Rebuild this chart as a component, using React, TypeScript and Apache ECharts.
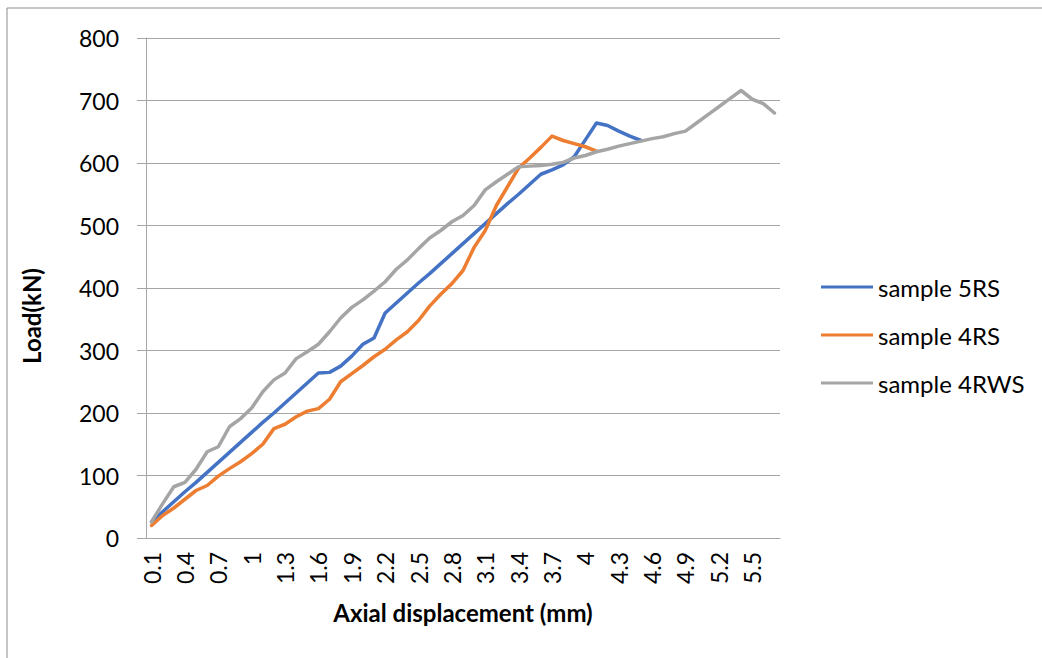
import React, { useEffect, useRef } from "react";
import * as echarts from "echarts";

const categories = [
  "0.1", "0.2", "0.3", "0.4", "0.5", "0.6", "0.7", "0.8", "0.9", "1",
  "1.1", "1.2", "1.3", "1.4", "1.5", "1.6", "1.7", "1.8", "1.9", "2",
  "2.1", "2.2", "2.3", "2.4", "2.5", "2.6", "2.7", "2.8", "2.9", "3",
  "3.1", "3.2", "3.3", "3.4", "3.5", "3.6", "3.7", "3.8", "3.9", "4",
  "4.1", "4.2", "4.3", "4.4", "4.5", "4.6", "4.7", "4.8", "4.9", "5",
  "5.1", "5.2", "5.3", "5.4", "5.5", "5.6", "5.7",
];

const sample5RS = [
  26, 42, 58, 74, 89, 105, 121, 137, 153, 169,
  185, 200, 216, 232, 248, 264, 265, 275, 291, 310,
  320, 360, 376, 392, 408, 423, 439, 455, 471, 487,
  503, 519, 535, 550, 566, 582, 589, 597, 610, 637,
  664, 660, 651, 643, 636,
];

const sample4RS = [
  20, 36, 48, 62, 76, 84, 99, 111, 122, 135,
  150, 175, 182, 194, 203, 207, 222, 250, 263, 276,
  290, 302, 317, 330, 348, 371, 390, 407, 428, 465,
  492, 532, 562, 592, 608, 625, 643, 636, 631, 626,
  619,
];

const sample4RWS = [
  26, 55, 82, 89, 110, 138, 146, 178, 191, 208,
  234, 253, 264, 287, 298, 310, 330, 352, 369, 381,
  395, 410, 430, 445, 463, 480, 492, 506, 516, 532,
  557, 570, 582, 594, 595, 596, 598, 601, 608, 612,
  618, 622, 627, 631, 635, 639, 642, 647, 651, 664,
  677, 690, 703, 716, 702, 695, 680,
];

const seriesNames = ["sample 5RS", "sample 4RS", "sample 4RWS"];
const seriesColors = ["#4472C4", "#ED7D31", "#A5A5A5"];

export default function App() {
  const ref = useRef<HTMLDivElement>(null);

  useEffect(() => {
    if (!ref.current) return;
    const chart = echarts.init(ref.current, null, { renderer: "svg" });
    const font = "Lato, 'Open Sans', sans-serif";
    const gridColor = "#a6a6a6";
    const pad = (arr: number[]) =>
      categories.map((_, i) => (i < arr.length ? arr[i] : null));
    const datasets = [sample5RS, sample4RS, sample4RWS];

    chart.setOption({
      animation: false,
      backgroundColor: "#ffffff",
      textStyle: { fontFamily: font },
      grid: {
        left: 146,
        right: 262,
        top: 38,
        bottom: 120,
        containLabel: false,
        outerBoundsMode: "none",
      },
      legend: {
        orient: "vertical",
        left: 821,
        top: 275,
        itemWidth: 52,
        itemHeight: 3,
        itemGap: 24,
        icon: "rect",
        selectedMode: false,
        padding: 0,
        data: seriesNames,
        textStyle: {
          fontFamily: font,
          fontSize: 24,
          lineHeight: 24,
          color: "#000",
        },
      },
      xAxis: {
        type: "category",
        data: categories,
        boundaryGap: true,
        axisLine: { show: true, lineStyle: { color: gridColor, width: 1 } },
        axisTick: { show: false },
        splitLine: { show: false },
        axisLabel: {
          rotate: 90,
          interval: 2,
          margin: 14,
          fontSize: 23,
          fontFamily: font,
          color: "#000",
        },
        name: "Axial displacement (mm)",
        nameLocation: "middle",
        nameGap: 62,
        nameTextStyle: {
          fontFamily: font,
          fontSize: 24,
          fontWeight: "bold",
          color: "#000",
        },
      },
      yAxis: {
        type: "value",
        min: 0,
        max: 800,
        interval: 100,
        axisLine: { show: true, lineStyle: { color: gridColor, width: 1 } },
        axisTick: { show: true, length: 9, lineStyle: { color: gridColor } },
        splitLine: { show: true, lineStyle: { color: gridColor, width: 1 } },
        axisLabel: {
          margin: 27,
          fontSize: 23,
          fontFamily: font,
          color: "#000",
        },
      },
      graphic: [
        {
          type: "rect",
          shape: { x: 7, y: 8, width: 1200, height: 800 },
          style: { fill: "none", stroke: "#8c8c8c", lineWidth: 1 },
          silent: true,
        },
        {
          type: "text",
          x: 31,
          y: 316,
          rotation: Math.PI / 2,
          style: {
            text: "Load(kN)",
            fontFamily: font,
            fontSize: 24,
            fontWeight: "bold",
            fill: "#000",
            align: "center",
            verticalAlign: "middle",
          },
        },
      ],
      series: datasets.map((d, k) => ({
        name: seriesNames[k],
        type: "line",
        data: pad(d),
        showSymbol: false,
        symbol: "none",
        connectNulls: false,
        color: seriesColors[k],
        lineStyle: { color: seriesColors[k], width: 3.5, cap: "round", join: "round" },
      })),
    });

    return () => chart.dispose();
  }, []);

  return (
    <div
      ref={ref}
      style={{
        position: "fixed",
        left: 0,
        top: 0,
        width: 1042,
        height: 658,
        background: "#fff",
      }}
    />
  );
}
